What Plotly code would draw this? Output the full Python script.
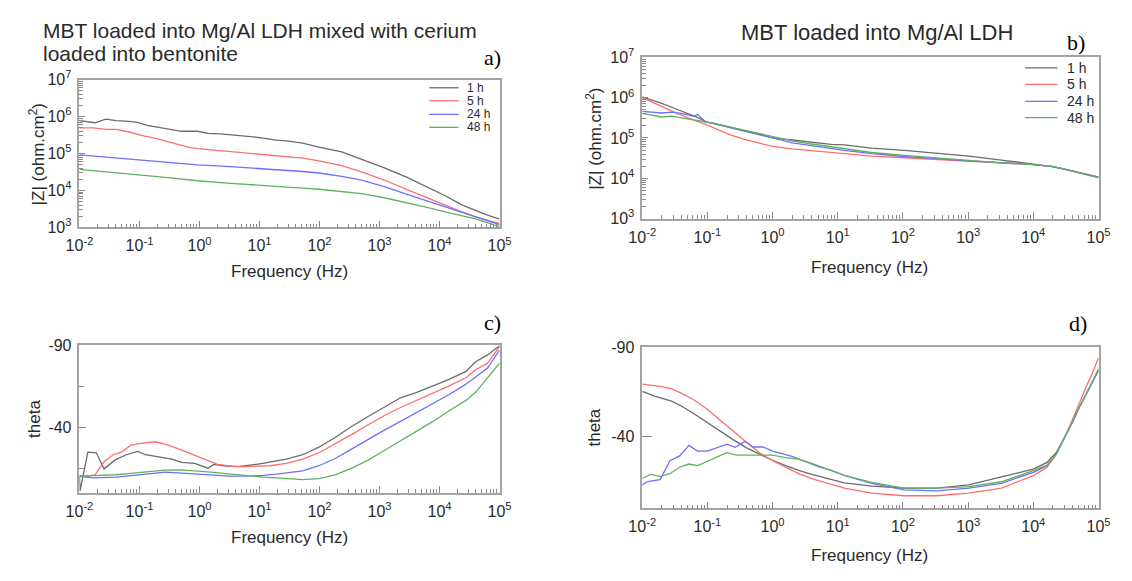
import plotly.graph_objects as go

W, H = 1132, 581

# ---------------- data ----------------
# frequency given as log10(f / Hz); |Z| as log10(|Z| / ohm.cm2); theta in degrees
SERIES = ["1 h", "5 h", "24 h", "48 h"]

# panel a : |Z| , MBT in Mg/Al LDH + cerium in bentonite
A_1H_F = [-2, -1.74, -1.56, -1.39, -1.17, -1.03, -0.87, -0.68, -0.46, -0.30, -0.03, 0.14, 0.35, 0.68, 1.0, 1.28,
          1.45, 1.72, 1.99, 2.37, 2.70, 3.08, 3.46, 3.79, 4.11, 4.38, 4.6, 4.8, 5.0]
A_1H_Z = [5.89, 5.83, 5.93, 5.89, 5.87, 5.84, 5.76, 5.71, 5.65, 5.60, 5.60, 5.54, 5.53, 5.48, 5.43, 5.36,
          5.34, 5.28, 5.17, 5.04, 4.84, 4.61, 4.35, 4.10, 3.84, 3.60, 3.45, 3.33, 3.22]
A_5H_F = [-2, -1.77, -1.55, -1.39, -1.17, -0.95, -0.73, -0.46, -0.19, -0.03, 0.24, 0.52, 0.84, 1.18, 1.72, 1.99,
          2.37, 2.70, 3.08, 3.46, 3.79, 4.11, 4.38, 4.6, 5.0]
A_5H_Z = [5.69, 5.69, 5.65, 5.65, 5.58, 5.48, 5.41, 5.28, 5.17, 5.13, 5.09, 5.06, 5.02, 4.96, 4.87, 4.80,
          4.67, 4.50, 4.28, 4.02, 3.80, 3.58, 3.41, 3.28, 3.10]
A_24H_F = [-2, -1.66, -1.11, -0.57, -0.03, 0.52, 1.28, 1.72, 1.99, 2.37, 2.70, 3.08, 3.46, 3.79, 4.11, 4.38, 4.6, 5.0]
A_24H_Z = [4.96, 4.91, 4.84, 4.76, 4.69, 4.64, 4.57, 4.51, 4.47, 4.38, 4.28, 4.10, 3.89, 3.71, 3.54, 3.39, 3.28, 3.07]
A_48H_F = [-2, -1.66, -1.11, -0.57, -0.03, 0.52, 1.28, 1.72, 1.99, 2.37, 2.70, 3.08, 3.46, 3.79, 4.11, 4.38, 4.6, 5.0]
A_48H_Z = [4.57, 4.51, 4.43, 4.35, 4.26, 4.19, 4.12, 4.06, 4.03, 3.97, 3.91, 3.80, 3.67, 3.54, 3.41, 3.30, 3.23, 3.02]

# panel b : |Z| , MBT in Mg/Al LDH
B_1H_F = [-2, -1.7, -1.45, -1.2, -1.0, -0.7, -0.45, -0.2, 0, 0.3, 0.6, 0.9, 1.1, 1.52, 2.02, 2.52, 3.01, 3.51,
          4.01, 4.3, 4.5, 4.7, 4.85, 5.0]
B_1H_Z = [6.02, 5.86, 5.70, 5.54, 5.39, 5.27, 5.17, 5.08, 5.00, 4.95, 4.89, 4.84, 4.83, 4.75, 4.69, 4.61, 4.55, 4.45,
          4.35, 4.29, 4.22, 4.14, 4.09, 4.03]
B_5H_F = [-2, -1.7, -1.45, -1.2, -1.0, -0.7, -0.45, -0.2, 0, 0.3, 0.6, 0.9, 1.1, 1.52, 2.02, 2.52, 3.01, 3.51,
          4.01, 4.3, 4.5, 4.7, 4.85, 5.0]
B_5H_Z = [6.0, 5.78, 5.60, 5.44, 5.32, 5.11, 4.97, 4.87, 4.79, 4.73, 4.69, 4.65, 4.61, 4.55, 4.51, 4.47, 4.43, 4.39,
          4.34, 4.29, 4.22, 4.14, 4.09, 4.03]
B_24H_F = [-2, -1.85, -1.7, -1.55, -1.4, -1.275, -1.2, -1.15, -1.1, -1.025, -0.9, -0.7, -0.45, -0.2, 0, 0.3, 0.6,
           0.9, 1.1, 1.52, 2.02, 2.52, 3.01, 3.51, 4.01, 4.3, 4.5, 4.7, 4.85, 5.0]
B_24H_Z = [5.66, 5.64, 5.62, 5.64, 5.61, 5.56, 5.54, 5.58, 5.50, 5.39, 5.37, 5.29, 5.19, 5.08, 5.0, 4.88, 4.81,
           4.73, 4.69, 4.61, 4.54, 4.49, 4.43, 4.39, 4.34, 4.29, 4.22, 4.14, 4.09, 4.03]
B_48H_F = [-2, -1.85, -1.7, -1.55, -1.4, -1.2, -1.0, -0.7, -0.45, -0.2, 0, 0.3, 0.6, 0.9, 1.1, 1.52, 2.02, 2.52,
           3.01, 3.51, 4.01, 4.3, 4.5, 4.7, 4.85, 5.0]
B_48H_Z = [5.61, 5.57, 5.52, 5.54, 5.50, 5.45, 5.39, 5.29, 5.20, 5.11, 5.03, 4.93, 4.85, 4.78, 4.73, 4.64, 4.57, 4.50,
           4.44, 4.38, 4.34, 4.29, 4.22, 4.13, 4.08, 4.01]

# panel c : theta , MBT in Mg/Al LDH + cerium in bentonite
C_1H_F = [-2, -1.99, -1.86, -1.72, -1.59, -1.41, -1.22, -1.03, -0.90, -0.68, -0.46, -0.30, -0.08, 0.14, 0.24, 0.41,
          0.63, 0.84, 1.06, 1.28, 1.45, 1.72, 1.99, 2.26, 2.54, 2.81, 3.08, 3.35, 3.62, 3.89, 4.16, 4.44, 4.6, 4.8, 5.0]
C_1H_T = [-10, -1.2, -24.8, -24.4, -14.6, -19.9, -23.2, -25.2, -23.2, -21.9, -20.5, -18.5, -17.9, -15.0, -17.3, -16.5,
          -15.9, -16.9, -17.9, -19.5, -20.5, -23.2, -27.8, -33.7, -40.6, -46.5, -52.4, -57.9, -61.2, -65.2, -69.1,
          -74.0, -79.9, -84.0, -89.6]
C_5H_F = [-2, -1.875, -1.74, -1.59, -1.44, -1.30, -1.14, -0.95, -0.73, -0.57, -0.35, -0.14, 0.08, 0.30, 0.52, 0.73,
          0.95, 1.17, 1.45, 1.72, 1.99, 2.26, 2.54, 2.81, 3.08, 3.35, 3.62, 3.89, 4.16, 4.44, 4.6, 4.8, 5.0]
C_5H_T = [-10.6, -10.0, -11.0, -18.9, -23.2, -24.8, -29.1, -30.3, -31.1, -29.7, -26.8, -23.8, -20.5, -17.3, -16.3,
          -15.8, -16.3, -16.5, -17.9, -20.5, -24.4, -29.7, -35.6, -41.5, -47.1, -52.0, -56.3, -60.6, -65.2, -70.1,
          -75.0, -79.0, -89.0]
C_24H_F = [-2, -1.77, -1.39, -1.11, -0.84, -0.57, -0.30, -0.03, 0.24, 0.52, 0.79, 1.06, 1.28, 1.45, 1.72, 1.99, 2.26,
           2.54, 2.81, 3.08, 3.35, 3.62, 3.89, 4.16, 4.44, 4.6, 4.8, 5.0]
C_24H_T = [-10.0, -9.1, -9.6, -10.6, -12.0, -12.6, -12.0, -11.4, -10.6, -10.2, -10.2, -10.6, -11.4, -12.0, -13.4,
           -16.5, -20.9, -26.8, -32.7, -38.2, -43.5, -48.8, -54.3, -59.9, -66.2, -70.5, -76.0, -87.0]
C_48H_F = [-2, -1.66, -1.39, -1.11, -0.84, -0.57, -0.30, -0.03, 0.24, 0.52, 0.79, 1.06, 1.28, 1.45, 1.72, 1.99, 2.26,
           2.54, 2.81, 3.08, 3.35, 3.62, 3.89, 4.16, 4.44, 4.6, 4.8, 5.0]
C_48H_T = [-10.2, -10.6, -11.0, -12.0, -13.0, -13.8, -14.0, -13.4, -12.4, -11.4, -10.4, -9.6, -9.1, -8.7, -8.1, -8.7,
           -11.0, -15.0, -19.9, -25.8, -31.7, -37.6, -43.5, -50.0, -56.3, -61.2, -70.0, -79.0]

# panel d : theta , MBT in Mg/Al LDH
D_1H_F = [-2, -1.8, -1.55, -1.4, -1.2, -1.0, -0.8, -0.6, -0.4, -0.2, 0, 0.2, 0.4, 0.6, 0.8, 1.1, 1.52, 2.02, 2.52,
          3.01, 3.51, 4.01, 4.21, 4.35, 4.5, 4.6, 4.7, 4.8, 4.9, 5.0]
D_1H_T = [-65.2, -62.5, -59.8, -57.1, -52.6, -47.7, -42.7, -38.2, -33.7, -30.1, -26.8, -23.8, -21.1, -18.9, -17.1,
          -14.2, -12.4, -11.2, -11.2, -13.0, -17.5, -22.0, -25.6, -31.0, -41.0, -48.0, -56.0, -63.0, -70.0, -77.0]
D_5H_F = [-2, -1.7, -1.55, -1.4, -1.2, -1.0, -0.8, -0.6, -0.4, -0.2, 0, 0.2, 0.4, 0.6, 0.8, 1.1, 1.52, 2.02, 2.52,
          3.01, 3.51, 4.01, 4.21, 4.35, 4.5, 4.6, 4.7, 4.8, 4.9, 5.0]
D_5H_T = [-69.3, -67.9, -66.6, -64.3, -60.3, -55.3, -49.0, -42.7, -36.9, -31.0, -26.5, -22.9, -19.3, -16.6, -14.4,
          -11.2, -8.5, -7.0, -7.0, -8.5, -11.2, -18.4, -22.9, -30.1, -41.0, -49.0, -58.0, -67.0, -75.0, -84.0]
D_24H_F = [-2, -1.925, -1.85, -1.725, -1.575, -1.425, -1.285, -1.15, -1.0, -0.85, -0.7, -0.575, -0.425, -0.3, -0.15,
           0, 0.15, 0.3, 0.5, 0.7, 0.9, 1.1, 1.52, 2.02, 2.52, 3.01, 3.51, 4.01, 4.21, 4.35, 4.5, 4.6, 4.7, 4.8, 4.9, 5.0]
D_24H_T = [-13.0, -14.8, -15.3, -16.0, -26.5, -29.2, -35.1, -31.9, -31.9, -33.7, -35.8, -34.0, -37.3, -34.2, -34.2,
           -31.9, -30.4, -29.0, -26.1, -23.2, -21.1, -18.4, -13.9, -10.3, -9.7, -11.2, -13.9, -20.2, -23.8, -30.1,
           -41.0, -48.0, -56.0, -63.0, -70.0, -77.0]
D_48H_F = [-2, -1.875, -1.725, -1.575, -1.425, -1.285, -1.15, -1.0, -0.85, -0.7, -0.55, -0.4, -0.2, 0, 0.2, 0.4, 0.6,
           0.8, 1.1, 1.52, 2.02, 2.52, 3.01, 3.51, 4.01, 4.21, 4.35, 4.5, 4.6, 4.7, 4.8, 4.9, 5.0]
D_48H_T = [-16.6, -18.9, -17.8, -19.3, -22.9, -24.7, -23.8, -26.1, -28.6, -31.0, -29.7, -29.7, -30.1, -29.7, -28.3,
           -27.4, -25.0, -22.5, -18.4, -14.4, -11.2, -11.2, -12.1, -14.8, -21.1, -24.1, -30.1, -41.0, -48.0, -56.0,
           -63.0, -70.0, -78.0]

X_TICK_EXP = [-2, -1, 0, 1, 2, 3, 4, 5]
Y_TICK_EXP = [3, 4, 5, 6, 7]
THETA_TICKS = [-90, -40]
THETA_MINOR = [-65, -15]

TITLE_A = ["MBT loaded into Mg/Al LDH mixed with cerium", "loaded into bentonite"]
TITLE_B = "MBT loaded into Mg/Al LDH"
COLORS = ["#6b6b6b", "#ff6e6e", "#6e6eff", "#5eb25e"]

# ---------------- layout helpers ----------------
FONT = "Liberation Sans, Arial, sans-serif"
SERIF = "Liberation Serif, Times New Roman, serif"
TXT = "#2a2a2a"
AX = "#a3a3a3"
TK = "#8a8a8a"

BOX = {  # pixel boxes of the four plot areas: left, right, top, bottom
    "a": (67, 497, 71, 224),
    "b": (643, 1110, 48, 215),
    "c": (67, 497, 346, 499),
    "d": (643, 1110, 348, 515),
}


def dom(p):
    l, r, t, b = BOX[p]
    return [l / W, r / W], [1 - b / H, 1 - t / H]


def px(x):
    return x / W


def py(y):
    return 1 - y / H


minor_x = [m * 10.0 ** e for e in X_TICK_EXP[:-1] for m in range(2, 10)]
minor_y = [m * 10.0 ** e for e in Y_TICK_EXP[:-1] for m in range(2, 10)]


def x_axis(p, anchor):
    d, _ = dom(p)
    return dict(domain=d, anchor=anchor, type="log", range=[-2, 5],
                tickmode="array", tickvals=[10.0 ** e for e in X_TICK_EXP],
                ticktext=["10<sup>%d</sup>" % e for e in X_TICK_EXP],
                ticks="inside", ticklen=7, tickwidth=1, tickcolor=TK,
                minor=dict(tickmode="array", tickvals=minor_x, ticks="inside", ticklen=4,
                           tickwidth=1, tickcolor=TK, showgrid=False),
                showline=True, linecolor=AX, linewidth=1.5, mirror=True,
                showgrid=False, zeroline=False, ticklabelstandoff=3,
                tickfont=dict(family=FONT, size=16, color=TXT))


def z_axis(p, anchor):
    _, d = dom(p)
    return dict(domain=d, anchor=anchor, type="log", range=[3, 7],
                tickmode="array", tickvals=[10.0 ** e for e in Y_TICK_EXP],
                ticktext=["10<sup>%d</sup>" % e for e in Y_TICK_EXP],
                ticks="inside", ticklen=6, tickwidth=1, tickcolor=TK,
                minor=dict(tickmode="array", tickvals=minor_y, ticks="inside", ticklen=4,
                           tickwidth=1, tickcolor=TK, showgrid=False),
                showline=True, linecolor=AX, linewidth=1.5, mirror=True,
                showgrid=False, zeroline=False, ticklabelstandoff=3,
                tickfont=dict(family=FONT, size=16, color=TXT))


def t_axis(p, anchor, with_minor, ticklen):
    _, d = dom(p)
    return dict(domain=d, anchor=anchor, range=[0, -90],
                tickmode="array", tickvals=THETA_TICKS, ticktext=[str(v) for v in THETA_TICKS],
                ticks="inside", ticklen=ticklen, tickwidth=1, tickcolor=TK,
                minor=dict(tickmode="array", tickvals=THETA_MINOR, ticks="inside" if with_minor else "",
                           ticklen=5, tickwidth=1, tickcolor=TK, showgrid=False),
                showline=True, linecolor=AX, linewidth=1.5, mirror=True,
                showgrid=False, zeroline=False, ticklabelstandoff=3,
                tickfont=dict(family=FONT, size=16, color=TXT))


fig = go.Figure()

panel_data = [
    ("x", "y", [(A_1H_F, A_1H_Z), (A_5H_F, A_5H_Z), (A_24H_F, A_24H_Z), (A_48H_F, A_48H_Z)], True),
    ("x2", "y2", [(B_1H_F, B_1H_Z), (B_5H_F, B_5H_Z), (B_24H_F, B_24H_Z), (B_48H_F, B_48H_Z)], True),
    ("x3", "y3", [(C_1H_F, C_1H_T), (C_5H_F, C_5H_T), (C_24H_F, C_24H_T), (C_48H_F, C_48H_T)], False),
    ("x4", "y4", [(D_1H_F, D_1H_T), (D_5H_F, D_5H_T), (D_24H_F, D_24H_T), (D_48H_F, D_48H_T)], False),
]

for xa, ya, series, is_log_y in panel_data:
    for name, color, (lf, v) in zip(SERIES, COLORS, series):
        fig.add_trace(go.Scatter(
            x=[10.0 ** f for f in lf],
            y=[10.0 ** z for z in v] if is_log_y else v,
            mode="lines", name=name, line=dict(color=color, width=1.3),
            xaxis=xa, yaxis=ya, showlegend=False, hoverinfo="skip"))

annotations = []
shapes = []


def text(x, y, s, size, family=FONT, color=TXT, angle=0, xanchor="center"):
    annotations.append(dict(x=px(x), y=py(y), xref="paper", yref="paper", text=s, showarrow=False,
                            font=dict(family=family, size=size, color=color), textangle=angle,
                            xanchor=xanchor, yanchor="middle"))


# legend keys (inside panels a and b)
def legend(x0, x1, xt, rows, size):
    for name, color, yy in zip(SERIES, COLORS, rows):
        shapes.append(dict(type="line", xref="paper", yref="paper", x0=px(x0), x1=px(x1),
                           y0=py(yy), y1=py(yy), line=dict(color=color, width=1.3)))
        text(xt, yy, name, size, xanchor="left")


legend(425, 455, 462, [79.5, 93, 107, 120.5], 12)
legend(1035, 1068, 1076, [59, 76, 93.5, 110.5], 14)

# panel titles
text(28, 20, TITLE_A[0], 21, xanchor="left")
text(28, 44, TITLE_A[1], 21, xanchor="left")
text(883, 22, TITLE_B, 22)
# panel letters
text(490, 48, "a)", 22, family=SERIF, color="#000")
text(1087, 33, "b)", 22, family=SERIF, color="#000")
text(490, 323, "c)", 22, family=SERIF, color="#000")
text(1089, 324, "d)", 22, family=SERIF, color="#000")
# axis titles
text(282, 270, "Frequency (Hz)", 17)
text(876, 266, "Frequency (Hz)", 17)
text(282, 545, "Frequency (Hz)", 17)
text(876, 564, "Frequency (Hz)", 17)
text(23, 148, "|Z| (ohm.cm<sup>2</sup>)", 17, angle=-90)
text(594, 132, "|Z| (ohm.cm<sup>2</sup>)", 17, angle=-90)
text(21, 423, "theta", 17, angle=-90)
text(594, 431, "theta", 17, angle=-90)

fig.update_layout(
    width=W, height=H, margin=dict(l=0, r=0, t=0, b=0, pad=0),
    paper_bgcolor="white", plot_bgcolor="white",
    xaxis=x_axis("a", "y"), yaxis=z_axis("a", "x"),
    xaxis2=x_axis("b", "y2"), yaxis2=z_axis("b", "x2"),
    xaxis3=x_axis("c", "y3"), yaxis3=t_axis("c", "x3", True, 7),
    xaxis4=x_axis("d", "y4"), yaxis4=t_axis("d", "x4", False, 10),
    annotations=annotations, shapes=shapes,
    showlegend=False,
)

# the page body has a default 8px margin; remove it so the figure sits at the window origin
fig.write_html("out.html", config={"displayModeBar": False},
               post_script="document.body.style.margin='0';document.body.style.overflow='hidden';")
